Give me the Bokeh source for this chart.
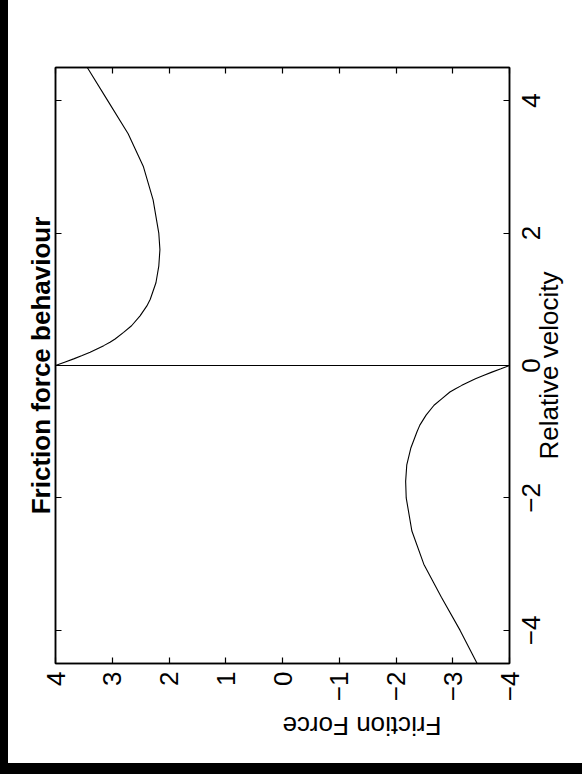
import math

from bokeh.embed import file_html
from bokeh.layouts import column, row
from bokeh.models import (ColumnDataSource, CustomJSTickFormatter, FixedTicker,
                          LinearAxis, Range1d, Spacer)
from bokeh.plotting import figure
from bokeh.resources import INLINE

# Friction force versus relative velocity (negative branch, then positive branch)
vel_neg = [-4.5, -4.0, -3.5, -3.0, -2.5, -2.0, -1.75, -1.5, -1.25, -1.0, -0.9,
           -0.75, -0.6, -0.5, -0.4, -0.35, -0.3, -0.25, -0.2, -0.15, -0.1, -0.05, 0.0]
force_neg = [-3.43, -3.13, -2.80, -2.49, -2.28, -2.18, -2.17, -2.19, -2.26, -2.37, -2.42,
             -2.53, -2.67, -2.81, -2.95, -3.05, -3.16, -3.28, -3.40, -3.54, -3.69, -3.85, -4.0]
vel_pos = [0.0, 0.05, 0.1, 0.15, 0.2, 0.25, 0.3, 0.35, 0.4, 0.5, 0.6,
           0.75, 0.9, 1.0, 1.25, 1.5, 1.75, 2.0, 2.5, 3.0, 3.5, 4.0, 4.5]
force_pos = [4.0, 3.84, 3.68, 3.53, 3.39, 3.27, 3.15, 3.04, 2.95, 2.80, 2.66,
             2.51, 2.39, 2.33, 2.23, 2.18, 2.16, 2.18, 2.28, 2.45, 2.72, 3.08, 3.44]

force_ticks = [-4, -3, -2, -1, 0, 1, 2, 3, 4]
force_tick_labels = ["\u22124", "\u22123", "\u22122", "\u22121", "0", "1", "2", "3", "4"]
vel_ticks = [-4, -2, 0, 2, 4]
vel_tick_labels = ["\u22124", "\u22122", "0", "2", "4"]

title_text = "Friction force behaviour"
force_label = "Friction Force"
vel_label = "Relative velocity"

FONT = "Liberation Sans"
FS_PX = 26
FS = f"{FS_PX}px"

W, H = 574, 763
BORDER_L, BORDER_R, BORDER_T, BORDER_B = 47, 68, 67, 100
VEL_LO, VEL_HI = -4.5, 4.5
px_per_vel = (H - BORDER_T - BORDER_B) / (VEL_HI - VEL_LO)

# Liberation Sans advance widths (em) of the characters used on the velocity side
ADVANCE = {"R": 0.722, "e": 0.556, "l": 0.222, "a": 0.556, "t": 0.278, "i": 0.222,
           "v": 0.5, " ": 0.278, "o": 0.556, "c": 0.5, "y": 0.5, "\u2212": 0.584}


def half_length(text):
    """Half the drawn length of a text, in velocity units."""
    em = sum(ADVANCE.get(ch, 0.556) for ch in text)
    return em * FS_PX / 2 / px_per_vel


# The page is laid out sideways: force runs across (4 on the left), velocity runs up.
src = ColumnDataSource(dict(force=force_neg + force_pos, vel=vel_neg + vel_pos))

p = figure(width=W, height=H, output_backend="svg", toolbar_location=None,
           title=title_text, title_location="left",
           x_range=Range1d(4, -4), y_range=Range1d(VEL_LO, VEL_HI),
           x_axis_location=None, y_axis_location=None,
           min_border_left=BORDER_L, min_border_right=BORDER_R,
           min_border_top=BORDER_T, min_border_bottom=BORDER_B)
p.background_fill_color = "white"
p.border_fill_color = "white"
p.outline_line_color = "black"
p.outline_line_width = 1.5
p.xgrid.visible = False
p.ygrid.visible = False

p.title.text_font = FONT
p.title.text_font_size = FS
p.title.text_font_style = "bold"
p.title.text_color = "black"
p.title.align = "center"
p.title.standoff = 0
p.title.offset = 0

p.line("force", "vel", source=src, line_color="black", line_width=1.1)

blank = CustomJSTickFormatter(code="return ''")


def tick_axis(ticks):
    """Frame edge with inward ticks and no labels."""
    ax = LinearAxis(ticker=FixedTicker(ticks=ticks), formatter=blank)
    ax.axis_line_color = "black"
    ax.axis_line_width = 1.5
    ax.major_tick_in = 6
    ax.major_tick_out = 0
    ax.major_tick_line_width = 1.2
    ax.minor_tick_line_color = None
    ax.major_label_text_font_size = "0px"
    ax.major_label_standoff = 0
    return ax


def text_axis(ticks, labels, standoff, line_height=1.2):
    """Axis that only carries rotated texts, read upward."""
    ax = LinearAxis(ticker=FixedTicker(ticks=ticks),
                    formatter=CustomJSTickFormatter(args=dict(labels=labels),
                                                    code="return labels[index]"))
    ax.axis_line_color = None
    ax.major_tick_line_color = None
    ax.minor_tick_line_color = None
    ax.major_tick_in = 0
    ax.major_tick_out = 0
    ax.major_label_text_font = FONT
    ax.major_label_text_font_size = FS
    ax.major_label_text_color = "black"
    ax.major_label_text_line_height = line_height
    ax.major_label_orientation = math.pi / 2
    ax.major_label_standoff = standoff
    return ax


# force axis along the bottom, with its upside-down name
force_axis = tick_axis(force_ticks)
force_axis.formatter = CustomJSTickFormatter(args=dict(labels=force_tick_labels),
                                             code="return labels[index]")
force_axis.major_label_text_font = FONT
force_axis.major_label_text_font_size = FS
force_axis.major_label_text_color = "black"
force_axis.major_label_orientation = math.pi / 2
force_axis.major_label_standoff = 8
force_axis.axis_label = force_label
force_axis.axis_label_text_font = FONT
force_axis.axis_label_text_font_size = FS
force_axis.axis_label_text_font_style = "normal"
force_axis.axis_label_text_color = "black"
force_axis.axis_label_orientation = math.pi
force_axis.axis_label_standoff = 22
p.add_layout(force_axis, "below")

p.add_layout(tick_axis(force_ticks), "above")
p.add_layout(tick_axis(vel_ticks), "left")
p.add_layout(tick_axis(vel_ticks), "right")

# rotated velocity labels start at their anchor, so each anchor sits half a label below its tick
vel_label_pos = [t - half_length(s) for t, s in zip(vel_ticks, vel_tick_labels)]
p.add_layout(text_axis(vel_label_pos, vel_tick_labels, 22), "right")
p.add_layout(text_axis([0 - half_length(vel_label)], [vel_label], -3, 0.5), "right")

left_bar = Spacer(width=8, height=774, styles={"background-color": "black"})
bottom_bar = Spacer(width=W, height=11, styles={"background-color": "black"})
page = row(left_bar, column(p, bottom_bar, spacing=0), spacing=0)

open("out.html", "w").write(file_html(page, INLINE))
